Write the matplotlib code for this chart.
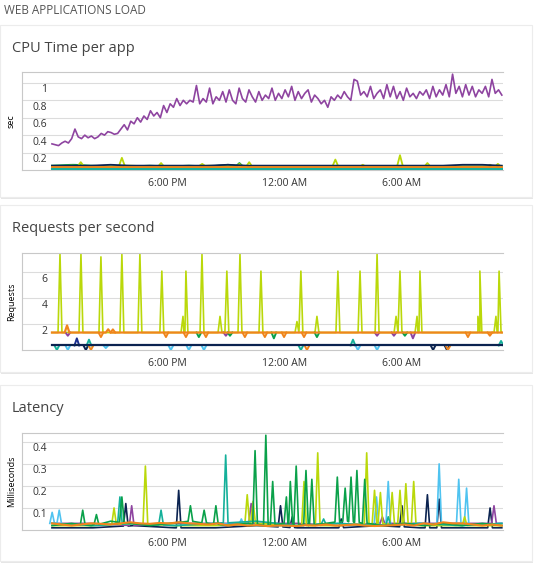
import numpy as np
import matplotlib
matplotlib.use("Agg")
import matplotlib.pyplot as plt
from matplotlib.patches import Rectangle
from matplotlib import transforms

plt.rcParams['font.family'] = ['Open Sans', 'DejaVu Sans']

W, H = 540, 574
T0, T1 = 0.13, 23.1   # hours after noon covered by data

# ---- CPU time per app (sec), 10 min samples ----
cpu_purple = [
    0.30, 0.29, 0.28, 0.31, 0.33, 0.31, 0.36, 0.47, 0.38, 0.36, 0.40, 0.37,
    0.39, 0.36, 0.38, 0.42, 0.40, 0.44, 0.43, 0.41, 0.42, 0.47, 0.52, 0.46,
    0.56, 0.53, 0.60, 0.55, 0.62, 0.58, 0.68, 0.62, 0.66, 0.60, 0.74, 0.66,
    0.76, 0.72, 0.82, 0.74, 0.80, 0.76, 0.80, 0.78, 0.97, 0.76, 0.82, 0.78,
    0.94, 0.76, 0.84, 0.80, 0.90, 0.78, 0.92, 0.80, 0.76, 0.94, 0.82, 0.78,
    0.92, 0.84, 0.78, 0.90, 0.80, 0.86, 0.82, 0.94, 0.80, 0.88, 0.82, 0.92,
    0.84, 0.96, 0.80, 0.90, 0.82, 0.88, 0.92, 0.78, 0.86, 0.82, 0.76, 0.80,
    0.72, 0.84, 0.80, 0.86, 0.82, 0.90, 0.84, 0.80, 1.04, 1.02, 0.86, 0.90,
    0.84, 0.96, 0.82, 0.88, 0.92, 0.82, 0.98, 0.84, 0.96, 0.82, 0.90, 0.80,
    0.94, 0.84, 0.88, 0.82, 0.90, 0.86, 0.92, 0.82, 0.96, 0.84, 0.92, 0.86,
    0.98, 0.84, 1.10, 0.88, 0.96, 0.84, 0.98, 0.86, 0.96, 0.84, 0.92, 0.88,
    0.96, 0.84, 1.04, 0.88, 0.92, 0.86,
]
cpu_lime_base = [0.04, 0.05, 0.04, 0.04, 0.05, 0.04, 0.04, 0.04, 0.05, 0.04, 0.04, 0.04,
                 0.04, 0.04, 0.04, 0.04, 0.04, 0.04, 0.04, 0.04, 0.04, 0.04, 0.04, 0.04]
cpu_lime_spikes = [(1.6, 0.09), (3.7, 0.14), (5.7, 0.08), (7.8, 0.07), (9.7, 0.07),
                   (10.2, 0.09), (14.6, 0.12), (16.0, 0.06), (17.9, 0.17), (19.3, 0.08),
                   (22.5, 0.06), (22.9, 0.07)]
cpu_navy = [0.05, 0.05, 0.05, 0.06, 0.05, 0.05, 0.05, 0.05, 0.05, 0.06, 0.05, 0.05,
            0.05, 0.05, 0.05, 0.05, 0.05, 0.05, 0.05, 0.05, 0.05, 0.06, 0.06, 0.05]
cpu_green_base = [0.05, 0.06, 0.05, 0.04, 0.04, 0.05, 0.04, 0.05, 0.04, 0.06, 0.04, 0.04,
                  0.04, 0.04, 0.04, 0.04, 0.04, 0.04, 0.04, 0.04, 0.04, 0.04, 0.04, 0.04]
cpu_orange = [0.03, 0.03, 0.03, 0.03, 0.03, 0.03, 0.03, 0.03, 0.03, 0.03, 0.03, 0.03,
              0.03, 0.03, 0.03, 0.03, 0.03, 0.03, 0.03, 0.03, 0.03, 0.03, 0.03, 0.03]
cpu_teal = [0.01, 0.01, 0.01, 0.01, 0.01, 0.01, 0.01, 0.01, 0.01, 0.01, 0.01, 0.01]

# ---- Requests per second ----
req_orange_base = [1.35, 1.35, 1.35, 1.35, 1.35, 1.35, 1.35, 1.35, 1.35, 1.35, 1.35, 1.35]
req_orange_bumps = [(0.9, 1.9), (3.0, 1.6)]
req_lime_spikes = [(0.54, 7.4), (1.61, 7.4), (2.63, 7.2), (3.70, 7.4), (4.62, 7.4),
                   (5.74, 6.1), (6.97, 6.1), (7.79, 7.4), (9.06, 6.1), (9.73, 7.4),
                   (10.80, 6.1), (12.84, 6.1), (14.73, 6.1), (15.86, 6.1), (16.73, 7.4),
                   (17.90, 6.1), (18.92, 6.1), (21.98, 6.1), (22.96, 6.1),
                   (6.82, 2.6), (8.71, 2.6), (12.64, 2.2), (13.66, 2.6), (17.70, 2.6),
                   (18.77, 2.6), (21.88, 2.6), (22.80, 2.6)]
req_dark_base = [0.35, 0.35, 0.35, 0.35, 0.35, 0.35, 0.35, 0.35, 0.35, 0.35, 0.35, 0.35]
# dips off the 1.35 line: (hour, value, colour key)
req_upper_dips = [(0.94, 1.1, 'purple'), (2.63, 1.0, 'orange'), (3.24, 1.6, 'orange'),
                  (5.95, 1.0, 'orange'), (6.97, 1.0, 'orange'), (7.63, 1.0, 'green'),
                  (7.99, 1.0, 'orange'), (9.01, 1.1, 'purple'), (9.22, 1.1, 'green'),
                  (9.98, 1.0, 'orange'), (11.0, 1.0, 'orange'), (11.46, 0.9, 'green'),
                  (11.98, 1.0, 'orange'), (13.0, 1.0, 'orange'), (13.66, 1.0, 'green'),
                  (16.73, 1.1, 'purple'), (17.59, 1.1, 'purple'), (18.15, 1.1, 'green'),
                  (18.56, 0.9, 'purple'), (21.37, 1.0, 'orange'), (22.49, 1.1, 'orange')]
# dips off the 0.35 line
req_lower_dips = [(0.38, 0.0, 'teal'), (0.94, 0.0, 'lightblue'), (1.40, 0.9, 'blue'),
                  (1.86, 0.0, 'navy'), (2.02, 0.8, 'teal'), (2.12, 0.0, 'orange'),
                  (2.88, 0.15, 'lightblue'), (6.20, 0.0, 'lightblue'), (7.12, 0.0, 'lightblue'),
                  (7.89, 0.0, 'lightblue'), (12.84, 0.0, 'teal'), (13.15, 0.0, 'orange'),
                  (15.50, 0.8, 'teal'), (15.75, 0.0, 'lightblue'), (16.73, 0.0, 'lightblue'),
                  (19.59, 0.0, 'navy'), (20.30, 0.0, 'navy'), (20.35, 0.0, 'orange'),
                  (23.06, 0.7, 'teal')]

# ---- Latency (ms) ----
lat_orange = [0.030, 0.025, 0.020, 0.025, 0.030, 0.028, 0.025, 0.030, 0.035, 0.030,
              0.028, 0.032, 0.030, 0.035, 0.030, 0.028, 0.025, 0.030, 0.020, 0.025,
              0.020, 0.022, 0.018, 0.020, 0.020, 0.018, 0.022, 0.020, 0.025, 0.020,
              0.022, 0.025, 0.020, 0.018, 0.020, 0.022, 0.025, 0.020, 0.030, 0.025,
              0.035, 0.030, 0.030, 0.025, 0.020, 0.025, 0.020]
lat_green_base = [0.02, 0.03, 0.02, 0.04, 0.03, 0.02, 0.03, 0.04, 0.03, 0.02, 0.03, 0.02,
                  0.03, 0.02, 0.03, 0.04, 0.03, 0.02, 0.03, 0.02, 0.03, 0.02, 0.03, 0.02]
lat_green_spikes = [(1.7, 0.09), (2.4, 0.07), (3.7, 0.15), (7.2, 0.11), (7.9, 0.09),
                    (8.5, 0.11), (10.5, 0.36), (11.05, 0.43), (11.4, 0.22), (12.1, 0.15),
                    (12.3, 0.22), (12.6, 0.29), (13.1, 0.27), (13.4, 0.23), (14.7, 0.24),
                    (15.1, 0.19), (15.4, 0.24), (15.7, 0.27), (16.1, 0.23)]
lat_teal_base = [0.03, 0.02, 0.03, 0.02, 0.03, 0.04, 0.02, 0.03, 0.02, 0.03, 0.02, 0.03]
lat_teal_spikes = [(3.6, 0.15), (5.7, 0.09), (9.0, 0.34), (14.0, 0.05), (17.3, 0.06)]
lat_lime_base = [0.02, 0.02, 0.03, 0.02, 0.02, 0.03, 0.02, 0.02, 0.03, 0.02, 0.02, 0.02]
lat_lime_spikes = [(3.3, 0.10), (4.9, 0.29), (10.1, 0.16), (10.4, 0.13), (13.0, 0.22),
                   (13.7, 0.35), (16.2, 0.35), (16.6, 0.18), (16.9, 0.17), (17.5, 0.17),
                   (17.9, 0.18), (18.2, 0.21), (18.6, 0.22), (21.2, 0.06)]
lat_navy_base = [0.01, 0.01, 0.02, 0.01, 0.01, 0.02, 0.01, 0.01, 0.02, 0.01, 0.01, 0.01]
lat_navy_spikes = [(3.9, 0.12), (6.6, 0.18), (11.8, 0.11), (12.4, 0.06), (14.9, 0.05),
                   (18.0, 0.11), (19.3, 0.16), (19.9, 0.14), (22.5, 0.10)]
lat_purple_base = [0.03, 0.03, 0.02, 0.03, 0.03, 0.03, 0.03, 0.02, 0.03, 0.03, 0.03, 0.03]
lat_purple_spikes = [(4.2, 0.11), (10.3, 0.12), (17.0, 0.06), (22.7, 0.11)]
lat_blue_base = [0.03, 0.02, 0.03, 0.02, 0.03, 0.02, 0.02, 0.03, 0.02, 0.03, 0.02, 0.03]
lat_blue_spikes = [(0.14, 0.08), (0.5, 0.09), (16.7, 0.15), (17.3, 0.22), (19.9, 0.30),
                   (20.9, 0.23), (21.3, 0.19), (9.8, 0.05)]

x_ticks = [6, 12, 18]
x_labels = ['6:00 PM', '12:00 AM', '6:00 AM']

C = {'purple': '#8e44a0', 'lime': '#bad80a', 'orange': '#f0851c', 'navy': '#0b2350',
     'blue': '#1b2f8f', 'green': '#0aa14a', 'teal': '#14b09a', 'lightblue': '#4fc3f0'}


def merge(base, spikes, w=0.15):
    hb = np.linspace(T0, T1, len(base))
    pts = [(h, v) for h, v in zip(hb, base)
           if all(abs(h - s) > w for s, _ in spikes)]
    for s, v in spikes:
        b = float(np.interp(s, hb, base))
        pts += [(s - w, b), (s, v), (s + w, b)]
    pts.sort()
    return [p[0] for p in pts], [p[1] for p in pts]


def line(ax, vals, color, lw=1.2, z=2):
    ax.plot(np.linspace(T0, T1, len(vals)), vals, color=color, lw=lw, zorder=z)


fig = plt.figure(figsize=(W / 100, H / 100), dpi=100)
fig.patch.set_facecolor('white')


def fx(px):
    return px / W


def fy(py):
    return 1 - py / H


# cards
for top, bot in [(25, 197), (205, 372), (385, 561)]:
    fig.patches.append(Rectangle((fx(1), fy(bot + 2)), fx(532), (bot - top) / H,
                                 transform=fig.transFigure, facecolor='#e6e6e6',
                                 edgecolor='none', zorder=-2))
    fig.patches.append(Rectangle((fx(0), fy(bot)), fx(532), (bot - top) / H,
                                 transform=fig.transFigure, facecolor='white',
                                 edgecolor='#ececec', lw=0.8, zorder=-1))

fig.text(fx(4), fy(11), 'WEB APPLICATIONS LOAD', fontsize=8.5, color='#555555', va='center')
titles = [('CPU Time per app', 48), ('Requests per second', 228), ('Latency', 408)]
for t, py in titles:
    fig.text(fx(12), fy(py), t, fontsize=10.5, color='#444444', va='center')


def make_axes(top, bot, ymax, ticks, labels, ylabel):
    ax = fig.add_axes([fx(22), fy(bot), fx(503 - 22), (bot - top) / H])
    ax.set_facecolor('none')
    ax.set_xlim(-1.4, 23.16)
    ax.set_ylim(0, ymax)
    ax.spines['right'].set_visible(False)
    for sp in ['left', 'top', 'bottom']:
        ax.spines[sp].set_color('#c8c8c8')
        ax.spines[sp].set_linewidth(0.8)
    ax.set_yticks(ticks)
    ax.set_yticklabels([])
    ax.tick_params(axis='y', length=0)
    ax.grid(axis='y', color='#dcdcdc', lw=0.8)
    ax.set_axisbelow(True)
    ax.set_xticks(x_ticks)
    ax.set_xticklabels(x_labels, fontsize=7.5, color='#333333')
    ax.tick_params(axis='x', length=0, pad=6)
    off = transforms.offset_copy(ax.transData, fig=fig, x=0, y=-5, units='points')
    for v, lab in zip(ticks, labels):
        ax.text(-0.1, v, lab, transform=off, ha='right', va='center',
                fontsize=7.5, color='#333333')
    ax.set_ylabel(ylabel, fontsize=6.5, labelpad=1)
    return ax


# CPU
ax1 = make_axes(72, 170, 1.125, [0.2, 0.4, 0.6, 0.8, 1.0],
                ['0.2', '0.4', '0.6', '0.8', '1'], 'sec')
ax1.plot(*merge(cpu_green_base, [(1.2, 0.06), (9.7, 0.08)]), color=C['green'], lw=1.3)
ax1.plot(*merge(cpu_lime_base, cpu_lime_spikes), color=C['lime'], lw=1.3)
line(ax1, cpu_navy, C['navy'], 1.3)
line(ax1, cpu_orange, C['orange'], 2.0, 3)
line(ax1, cpu_teal, C['teal'], 1.5, 3)
line(ax1, cpu_purple, C['purple'], 1.2, 4)

# Requests
ax2 = make_axes(253, 350, 7.5, [2, 4, 6], ['2', '4', '6'], 'Requests')
ax2.plot(*merge(req_orange_base, req_lime_spikes, 0.1), color=C['lime'], lw=1.2, zorder=2)
for h, v, k in req_upper_dips:
    ax2.plot([h - 0.12, h, h + 0.12], [1.35, v, 1.35], color=C[k], lw=1.4, zorder=3)
for h, v, k in req_lower_dips:
    ax2.plot([h - 0.12, h, h + 0.12], [0.35, v, 0.35], color=C[k], lw=1.4, zorder=3)
ax2.plot(*merge(req_orange_base, req_orange_bumps, 0.12), color=C['orange'], lw=1.6, zorder=4)
ax2.plot(*merge(req_dark_base, []), color=C['navy'], lw=1.6, zorder=4)

# Latency
ax3 = make_axes(433, 530, 0.44, [0.1, 0.2, 0.3, 0.4],
                ['0.1', '0.2', '0.3', '0.4'], 'Milliseconds')
ax3.plot(*merge(lat_navy_base, lat_navy_spikes, 0.12), color=C['navy'], lw=1.2)
ax3.plot(*merge(lat_purple_base, lat_purple_spikes, 0.12), color=C['purple'], lw=1.2)
ax3.plot(*merge(lat_blue_base, lat_blue_spikes, 0.12), color=C['lightblue'], lw=1.2)
ax3.plot(*merge(lat_lime_base, lat_lime_spikes, 0.12), color=C['lime'], lw=1.2)
ax3.plot(*merge(lat_teal_base, lat_teal_spikes, 0.12), color=C['teal'], lw=1.2)
ax3.plot(*merge(lat_green_base, lat_green_spikes, 0.12), color=C['green'], lw=1.2)
line(ax3, lat_orange, C['orange'], 1.5, 4)

fig.savefig('out.png', dpi=100, facecolor='white')
